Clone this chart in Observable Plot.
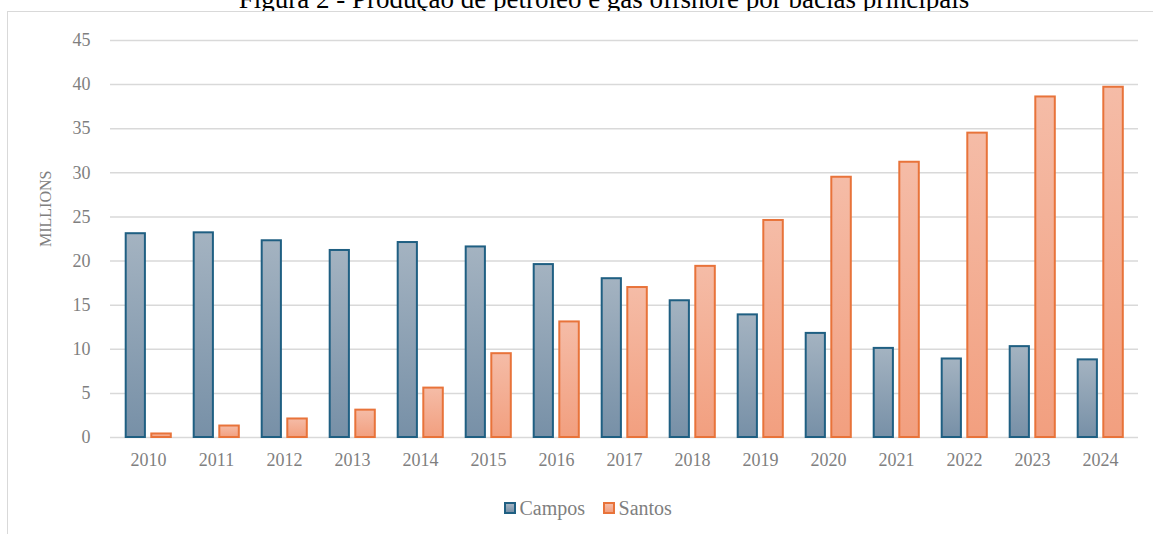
<!DOCTYPE html>
<html><head><meta charset="utf-8">
<script src="https://cdn.jsdelivr.net/npm/d3@7"></script>
<script src="https://cdn.jsdelivr.net/npm/@observablehq/plot@0.6"></script>
<style>
html,body{margin:0;padding:0;background:#fff;overflow:hidden;}
#wrap{position:relative;width:1153px;height:534px;overflow:hidden;font-family:"Liberation Serif","Times New Roman",serif;}
#title{position:absolute;left:0;width:1208px;top:-14px;text-align:center;white-space:nowrap;font-size:27px;line-height:27px;color:#000;}
#frame{position:absolute;left:7px;top:11px;width:1300px;height:700px;border-left:1.5px solid #d9d9d9;border-top:1.5px solid #d9d9d9;background:#fff;}
#chart{position:absolute;left:0;top:0;}
#legend{position:absolute;left:504px;top:497.5px;height:20px;display:flex;align-items:center;font-size:20px;line-height:20px;color:#7f7f7f;white-space:nowrap;}
.sw{display:inline-block;box-sizing:border-box;width:12px;height:12px;margin-right:3.5px;}
.item{display:flex;align-items:center;}
</style>
</head><body>
<div id="wrap">
  <div id="title">Figura 2 - Produção de petróleo e gás offshore por bacias principais</div>
  <div id="frame"></div>
  <div id="chart"></div>
  <div id="legend"></div>
</div>
<script>
const years = ["2010","2011","2012","2013","2014","2015","2016","2017","2018","2019","2020","2021","2022","2023","2024"];
const series = ["Campos","Santos"];
const campos = [23.1, 23.2, 22.3, 21.2, 22.1, 21.6, 19.6, 18.0, 15.5, 13.9, 11.8, 10.1, 8.9, 10.3, 8.8];
const santos = [0.4, 1.3, 2.1, 3.1, 5.6, 9.5, 13.1, 17.0, 19.4, 24.6, 29.5, 31.2, 34.5, 38.6, 39.7];
const yTicks = [0, 5, 10, 15, 20, 25, 30, 35, 40, 45];
const axisTitle = "MILLIONS";

const strokes = {Campos: "#1f5f82", Santos: "#e8733a"};
const gradTop = {Campos: "#a4b3c1", Santos: "#f5bca7"};
const gradBottom = {Campos: "#7790a7", Santos: "#f29f7f"};

const rows = years.flatMap((yr, i) => [
  {year: yr, series: "Campos", value: campos[i]},
  {year: yr, series: "Santos", value: santos[i]}
]);

const NS = "http://www.w3.org/2000/svg";
function defs() {
  const d = document.createElementNS(NS, "defs");
  for (const s of series) {
    const g = document.createElementNS(NS, "linearGradient");
    g.setAttribute("id", "g" + s);
    g.setAttribute("x1", "0"); g.setAttribute("y1", "0");
    g.setAttribute("x2", "0"); g.setAttribute("y2", "1");
    const s0 = document.createElementNS(NS, "stop");
    s0.setAttribute("offset", "0"); s0.setAttribute("stop-color", gradTop[s]);
    const s1 = document.createElementNS(NS, "stop");
    s1.setAttribute("offset", "1"); s1.setAttribute("stop-color", gradBottom[s]);
    g.appendChild(s0); g.appendChild(s1);
    d.appendChild(g);
  }
  return d;
}

const plot = Plot.plot({
  width: 1153, height: 480,
  marginLeft: 110, marginRight: 15, marginTop: 40, marginBottom: 43,
  style: {fontFamily: '"Liberation Serif", "Times New Roman", serif', fontSize: "18px", color: "#7f7f7f", background: "transparent", overflow: "visible"},
  x: {domain: years, padding: 0, label: null, tickSize: 0, tickPadding: 16},
  y: {domain: [0, 45], ticks: 9, label: null, tickSize: 0, tickPadding: 20},
  marks: [
    defs,
    Plot.ruleY(yTicks, {stroke: "#d9d9d9", strokeWidth: 1.5}),
    Plot.barY(rows.filter(d => d.series === "Campos"), {x: "year", y: "value", fill: "url(#gCampos)", stroke: strokes.Campos, strokeWidth: 2, insetLeft: 11.7, insetRight: 37.1}),
    Plot.barY(rows.filter(d => d.series === "Santos"), {x: "year", y: "value", fill: "url(#gSantos)", stroke: strokes.Santos, strokeWidth: 2, insetLeft: 37.3, insetRight: 11.2}),
    Plot.text([axisTitle], {text: d => d, frameAnchor: "left", dx: -65, dy: 8, rotate: -90, fontSize: 16, fill: "#7f7f7f"})
  ]
});
document.getElementById("chart").appendChild(plot);

const legend = document.getElementById("legend");
series.forEach((s, i) => {
  const item = document.createElement("div");
  item.className = "item";
  if (i > 0) item.style.marginLeft = "18px";
  const sw = document.createElement("span");
  sw.className = "sw";
  sw.style.border = "2px solid " + strokes[s];
  sw.style.background = `linear-gradient(${gradTop[s]}, ${gradBottom[s]})`;
  const t = document.createElement("span");
  t.textContent = s;
  item.appendChild(sw); item.appendChild(t);
  legend.appendChild(item);
});
</script>
</body></html>
